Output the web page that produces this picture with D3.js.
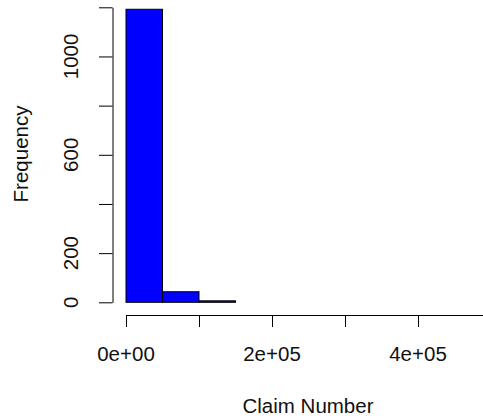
<!DOCTYPE html>
<html>
<head>
<meta charset="utf-8">
<script src="https://cdn.jsdelivr.net/npm/d3@7"></script>
<style>
  html, body { margin: 0; padding: 0; background: #fff; }
  svg { display: block; }
  text { font-family: "Liberation Sans", Arial, sans-serif; fill: #111; }
</style>
</head>
<body>
<script>
// Histogram of claim numbers: bin edges and counts
const binEdges = [0, 50000, 100000, 150000, 200000, 250000, 300000, 350000, 400000, 450000, 500000];
const binCounts = [1192, 43, 6, 0, 0, 0, 0, 0, 0, 0];

// Axis ticks and the labels shown beside them
const xTicks = [0, 100000, 200000, 300000, 400000, 500000];
const xTickLabels = ["0e+00", "", "2e+05", "", "4e+05", ""];
const yTicks = [0, 200, 400, 600, 800, 1000, 1200];
const yTickLabels = ["0", "200", "", "600", "", "1000", ""];

const xTitle = "Claim Number";
const yTitle = "Frequency";

const W = 483, H = 418;
const svg = d3.select("body").append("svg").attr("width", W).attr("height", H);

const x = d3.scaleLinear().domain([0, 500000]).range([126, 491]);
const y = d3.scaleLinear().domain([0, 1200]).range([302.3, 7.3]);

const bins = binCounts.map((c, i) => ({ x0: binEdges[i], x1: binEdges[i + 1], count: c }));

// Bars
svg.append("g")
  .selectAll("rect")
  .data(bins)
  .join("rect")
  .attr("x", d => x(d.x0))
  .attr("width", d => x(d.x1) - x(d.x0))
  .attr("y", d => y(d.count))
  .attr("height", d => y(0) - y(d.count))
  .attr("fill", "#0000ff")
  .attr("stroke", "#000")
  .attr("stroke-width", 1);

const fontSize = 20.5;

// X axis
const xAxis = svg.append("g")
  .attr("transform", "translate(0,315)")
  .call(d3.axisBottom(x).tickValues(xTicks).tickSize(12).tickSizeOuter(0).tickFormat(""));
xAxis.selectAll("path, line").attr("stroke", "#000").attr("stroke-width", 1);
xAxis.selectAll("text").remove();
svg.append("g").selectAll("text")
  .data(xTicks.map((v, i) => ({ v, label: xTickLabels[i] })).filter(d => d.label))
  .join("text")
  .attr("x", d => x(d.v))
  .attr("y", 361)
  .attr("text-anchor", "middle")
  .attr("font-size", fontSize)
  .text(d => d.label);

// Y axis
const yAxis = svg.append("g")
  .attr("transform", "translate(112.5,0)")
  .call(d3.axisLeft(y).tickValues(yTicks).tickSize(13.5).tickSizeOuter(0).tickFormat(""));
yAxis.selectAll("path, line").attr("stroke", "#000").attr("stroke-width", 1);
yAxis.selectAll("text").remove();
svg.append("g").selectAll("text")
  .data(yTicks.map((v, i) => ({ v, label: yTickLabels[i] })).filter(d => d.label))
  .join("text")
  .attr("transform", d => `translate(78,${y(d.v)}) rotate(-90)`)
  .attr("text-anchor", "middle")
  .attr("font-size", fontSize)
  .text(d => d.label);

// Axis titles
svg.append("text")
  .attr("x", 308)
  .attr("y", 413)
  .attr("text-anchor", "middle")
  .attr("font-size", fontSize)
  .text(xTitle);

svg.append("text")
  .attr("transform", "translate(28,154) rotate(-90)")
  .attr("text-anchor", "middle")
  .attr("font-size", fontSize)
  .text(yTitle);
</script>
</body>
</html>
